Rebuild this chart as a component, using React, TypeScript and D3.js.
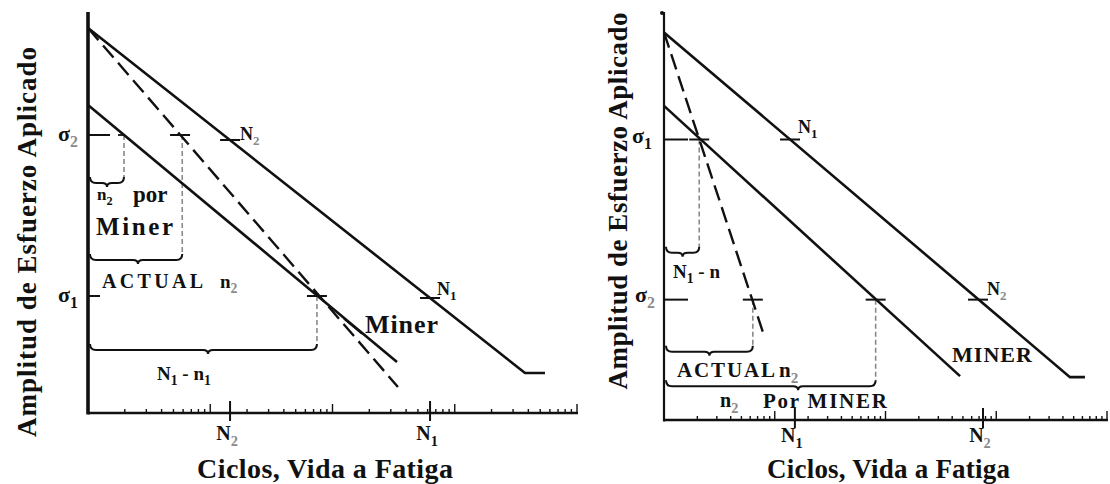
import React from "react";
import * as d3 from "d3";

type Pt = [number, number];

// ---------------- data ----------------
const cycleDomain: [number, number] = [1e2, 1e6];
const stressDomain: [number, number] = [0, 400];

// Left diagram (high stress first)
const leftUpperSN: Pt[] = [[100, 385], [375700, 40], [547000, 40]];
const leftLowerSN: Pt[] = [[100, 308], [33700, 51]];
const leftMinerLine: Pt[] = [[100, 385], [34300, 26]];
const leftSigma2 = 278;
const leftSigma1 = 117;
const leftMarks: Pt[] = [[1452, 273], [62800, 115], [7460, 117], [566, 278]];
const leftAxisTicks = [1452, 62800];
const leftAxisSubs = ["2", "1"];
const leftBrackets = [
  { n: 197, top: 278, bottom: 230 },
  { n: 590, top: 278, bottom: 153 },
  { n: 7460, top: 117, bottom: 63 },
];
const leftPointer: Pt[] = [[17400, 79], [12400, 94]];

// Right diagram (low stress first)
const rightUpperSN: Pt[] = [[100, 380], [463000, 42], [632000, 42]];
const rightLowerSN: Pt[] = [[100, 308], [47100, 43]];
const rightMinerLine: Pt[] = [[100, 380], [783, 86]];
const rightSigma1 = 275;
const rightSigma2 = 118;
const rightMarks: Pt[] = [[1374, 275], [68400, 118], [8150, 118], [208, 275], [634, 118]];
const rightAxisTicks = [1520, 75900];
const rightAxisSubs = ["1", "2"];
const rightBrackets = [
  { n: 208, top: 275, bottom: 164 },
  { n: 634, top: 118, bottom: 67 },
  { n: 8150, top: 118, bottom: 33 },
];

// ---------------- layout ----------------
const FONT = "Liberation Serif, Times New Roman, DejaVu Serif, serif";
const INK = "#111";
const GREY = "#8a8a8a";

type Part = { t: string; sub?: boolean; grey?: boolean };

function Label({ x, y, parts, size, anchor = "start", tl }: { x: number; y: number; parts: Part[]; size: number; anchor?: string; tl?: number }) {
  const off = size * 0.28;
  let inSub = false;
  const spans = parts.map((p, i) => {
    let dy = 0;
    if (p.sub && !inSub) { dy = off; inSub = true; }
    else if (!p.sub && inSub) { dy = -off; inSub = false; }
    return (
      <tspan key={i} dy={dy || undefined} fontSize={p.sub ? size * 0.72 : size} fill={p.grey ? GREY : INK}>
        {p.t}
      </tspan>
    );
  });
  return (
    <text x={x} y={y} style={{ fontFamily: FONT }} fontWeight="bold" fontSize={size} textAnchor={anchor as any}
      {...(tl ? { textLength: tl, lengthAdjust: "spacing" } : {})}>
      {spans}
    </text>
  );
}

function bracePath(xa: number, xb: number, y: number, frac: number) {
  const xm = xa + (xb - xa) * frac;
  const h = 6;
  return `M${xa},${y - h} Q${xa},${y} ${xa + h},${y} L${xm - 5},${y} Q${xm},${y} ${xm},${y + 4} Q${xm},${y} ${xm + 5},${y} L${xb - h},${y} Q${xb},${y} ${xb},${y - h}`;
}

type PanelProps = {
  x0: number; x1: number; yBottom: number; yTop: number; axisTop: number; axisW: number;
  upper: Pt[]; lower: Pt[]; miner: Pt[];
  marks: Pt[]; axisTicks: number[]; axisSubs: string[]; labelDy: number;
  brackets: { n: number; top: number; bottom: number }[];
  braceFrac: number[];
  sigmaTicks: { s: number; len: number; dashTo?: number }[];
  children?: (x: d3.ScaleLogarithmic<number, number>, y: d3.ScaleLinear<number, number>) => React.ReactNode;
};

function Panel(p: PanelProps) {
  const x = d3.scaleLog().domain(cycleDomain).range([p.x0, p.x1]);
  const y = d3.scaleLinear().domain(stressDomain).range([p.yBottom, p.yTop]);
  const line = d3.line<Pt>().x((d) => x(d[0])).y((d) => y(d[1]));
  const y0 = p.yBottom;
  const ticks = x.ticks().filter((t) => t > cycleDomain[0]);
  return (
    <g>
      {/* axes */}
      <line x1={p.x0} x2={p.x0} y1={p.axisTop} y2={y0 + 1.5} stroke={INK} strokeWidth={p.axisW} />
      <line x1={p.x0} x2={p.x1 + 1} y1={y0} y2={y0} stroke={INK} strokeWidth={2.4} />
      {ticks.map((t, i) => {
        const dec = Math.abs(Math.log10(t) - Math.round(Math.log10(t))) < 1e-6;
        return <line key={i} x1={x(t)} x2={x(t)} y1={y0} y2={y0 - (dec ? 9 : 4)} stroke={INK} strokeWidth={1.4} />;
      })}
      {p.axisTicks.map((t, i) => (
        <g key={i}>
          <line x1={x(t)} x2={x(t)} y1={y0 - 12} y2={y0 + 8} stroke={INK} strokeWidth={2} />
          <Label x={x(t) - 3} y={y0 + p.labelDy} size={20} anchor="middle"
            parts={[{ t: "N" }, { t: p.axisSubs[i], sub: true, grey: p.axisSubs[i] === "2" }]} />
        </g>
      ))}
      {/* sigma ticks */}
      {p.sigmaTicks.map((s, i) => (
        <g key={i}>
          <line x1={p.x0} x2={p.x0 + s.len} y1={y(s.s)} y2={y(s.s)} stroke={INK} strokeWidth={2} />
          {s.dashTo ? (
            <line x1={p.x0 + s.len + 8} x2={x(s.dashTo)} y1={y(s.s)} y2={y(s.s)} stroke={INK} strokeWidth={1.8} />
          ) : null}
        </g>
      ))}
      {/* brackets */}
      {p.brackets.map((b, i) => (
        <g key={i}>
          <line x1={x(b.n)} x2={x(b.n)} y1={y(b.top)} y2={y(b.bottom) - 6} stroke={GREY} strokeWidth={1.6} strokeDasharray="5,3" />
          <path d={bracePath(p.x0 + 2, x(b.n), y(b.bottom), p.braceFrac[i])} fill="none" stroke={INK} strokeWidth={2} />
        </g>
      ))}
      {/* S-N curves */}
      <path d={line(p.upper) || ""} fill="none" stroke={INK} strokeWidth={2.6} />
      <path d={line(p.lower) || ""} fill="none" stroke={INK} strokeWidth={2.6} />
      <path d={line(p.miner) || ""} fill="none" stroke={INK} strokeWidth={2.4} strokeDasharray="16,7" />
      {p.marks.map((m, i) => (
        <line key={i} x1={x(m[0]) - 10} x2={x(m[0]) + 10} y1={y(m[1])} y2={y(m[1])} stroke={INK} strokeWidth={2} />
      ))}
      {p.children ? p.children(x, y) : null}
    </g>
  );
}

export default function App() {
  const W = 1110, H = 484;
  return (
    <svg width={W} height={H} viewBox={`0 0 ${W} ${H}`} style={{ position: "absolute", left: 0, top: 0, background: "#fff" }}>
      <rect width={W} height={H} fill="#fff" />
      <Panel x0={88} x1={577} yBottom={413} yTop={13} axisTop={12} axisW={3.6}
        upper={leftUpperSN} lower={leftLowerSN} miner={leftMinerLine}
        marks={leftMarks} axisTicks={leftAxisTicks} axisSubs={leftAxisSubs} labelDy={27}
        brackets={leftBrackets} braceFrac={[0.5, 0.52, 0.52]}
        sigmaTicks={[{ s: leftSigma2, len: 22, dashTo: 200 }, { s: leftSigma1, len: 12 }]}
      >
        {(x, y) => (
          <g>
            <line x1={x(leftPointer[0][0])} y1={y(leftPointer[0][1])} x2={x(leftPointer[1][0])} y2={y(leftPointer[1][1])} stroke={INK} strokeWidth={1.6} />
          </g>
        )}
      </Panel>
      <Panel x0={664} x1={1107} yBottom={420} yTop={12} axisTop={12} axisW={2.2}
        upper={rightUpperSN} lower={rightLowerSN} miner={rightMinerLine}
        marks={rightMarks} axisTicks={rightAxisTicks} axisSubs={rightAxisSubs} labelDy={22}
        brackets={rightBrackets} braceFrac={[0.5, 0.5, 0.63]}
        sigmaTicks={[{ s: rightSigma1, len: 24 }, { s: rightSigma2, len: 24 }]}
      />
      <circle cx={662} cy={13} r={2} fill={INK} />

      {/* ---- left labels ---- */}
      <Label x={58} y={141} size={22} parts={[{ t: "σ" }, { t: "2", sub: true, grey: true }]} />
      <Label x={58} y={302} size={22} parts={[{ t: "σ" }, { t: "1", sub: true }]} />
      <Label x={240} y={140} size={18} parts={[{ t: "N" }, { t: "2", sub: true, grey: true }]} />
      <Label x={437} y={295} size={18} parts={[{ t: "N" }, { t: "1", sub: true }]} />
      <Label x={97} y={200} size={17} parts={[{ t: "n" }, { t: "2", sub: true }]} />
      <Label x={133} y={202} size={23} parts={[{ t: "por" }]} />
      <Label x={96} y={235} size={25} tl={77} parts={[{ t: "Miner" }]} />
      <Label x={102} y={288} size={20} tl={101} parts={[{ t: "ACTUAL" }]} />
      <Label x={220} y={288} size={19} parts={[{ t: "n" }, { t: "2", sub: true, grey: true }]} />
      <Label x={157} y={380} size={19} parts={[{ t: "N" }, { t: "1", sub: true }, { t: " - n" }, { t: "1", sub: true }]} />
      <Label x={365} y={333} size={26} tl={73} parts={[{ t: "Miner" }]} />
      <Label x={197} y={478} size={28} tl={256} parts={[{ t: "Ciclos, Vida a Fatiga" }]} />
      <g transform="translate(36,242) rotate(-90)">
        <Label x={0} y={0} size={27} anchor="middle" tl={390} parts={[{ t: "Amplitud de Esfuerzo Aplicado" }]} />
      </g>

      {/* ---- right labels ---- */}
      <Label x={632} y={143} size={22} parts={[{ t: "σ" }, { t: "1", sub: true }]} />
      <Label x={635} y={302} size={22} parts={[{ t: "σ" }, { t: "2", sub: true, grey: true }]} />
      <Label x={798} y={133} size={18} parts={[{ t: "N" }, { t: "1", sub: true }]} />
      <Label x={987} y={295} size={18} parts={[{ t: "N" }, { t: "2", sub: true, grey: true }]} />
      <Label x={673} y={278} size={19} parts={[{ t: "N" }, { t: "1", sub: true }, { t: " - n" }]} />
      <Label x={677} y={377} size={21} tl={98} parts={[{ t: "ACTUAL" }]} />
      <Label x={779} y={377} size={21} parts={[{ t: "n" }, { t: "2", sub: true, grey: true }]} />
      <Label x={720} y={407} size={20} parts={[{ t: "n" }, { t: "2", sub: true, grey: true }]} />
      <Label x={763} y={408} size={21} tl={124} parts={[{ t: "Por MINER" }]} />
      <Label x={952} y={362} size={22} tl={80} parts={[{ t: "MINER" }]} />
      <Label x={767} y={478} size={27} tl={243} parts={[{ t: "Ciclos, Vida a Fatiga" }]} />
      <g transform="translate(627,201) rotate(-90)">
        <Label x={0} y={0} size={27} anchor="middle" tl={377} parts={[{ t: "Amplitud de Esfuerzo Aplicado" }]} />
      </g>
    </svg>
  );
}
